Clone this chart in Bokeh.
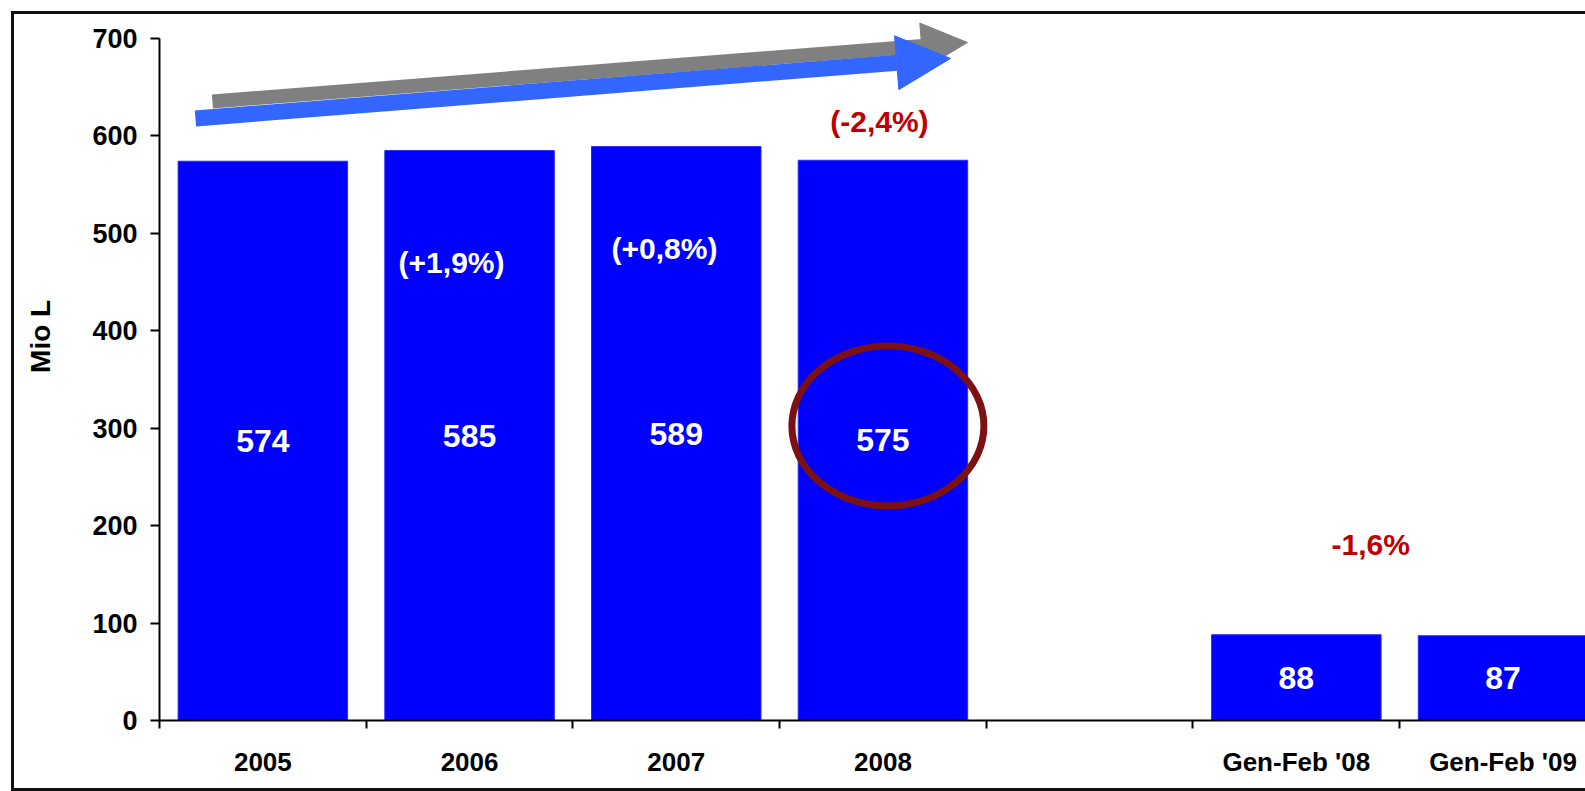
from bokeh.plotting import figure
from bokeh.models import (FixedTicker, Arrow, NormalHead, ColumnDataSource, LabelSet)
from bokeh.embed import file_html
from bokeh.resources import INLINE
from bokeh.core.properties import value

# ---------------- data ----------------
categories = ["2005", "2006", "2007", "2008", "", "Gen-Feb '08", "Gen-Feb '09"]
bar_slots = [0, 1, 2, 3, 5, 6]
bar_values = [574, 585, 589, 575, 88, 87]
bar_texts = ["574", "585", "589", "575", "88", "87"]

pct_texts = ["(+1,9%)", "(+0,8%)", "(-2,4%)", "-1,6%"]
pct_x = [0.913, 1.943, 2.983, 5.36]
pct_y = [470, 484, 615, 181]
pct_colors = ["white", "white", "#C00000", "#C00000"]

y_ticks = [0, 100, 200, 300, 400, 500, 600, 700]
y_title = "Mio L"

# ---------------- figure ----------------
FONT = "Liberation Sans"
p = figure(width=1585, height=791, x_range=(-0.5, 6.399), y_range=(0, 724.6),
           output_backend="svg", toolbar_location=None,
           min_border_left=159, min_border_right=0, min_border_top=14,
           min_border_bottom=71)
p.xgrid.visible = False
p.ygrid.visible = False
p.outline_line_color = None
p.background_fill_color = "white"
p.border_fill_color = None

# outer frame of the chart (drawn behind the transparent border area)
p.styles = {
    "background-color": "white",
    "background-image": "linear-gradient(#111,#111), linear-gradient(#111,#111), linear-gradient(#111,#111)",
    "background-size": "3px 780px, 1574px 3px, 1574px 3px",
    "background-position": "11px 11px, 11px 11px, 11px 788px",
    "background-repeat": "no-repeat",
}

src = ColumnDataSource(dict(x=bar_slots, top=bar_values,
                            mid=[v / 2 for v in bar_values], txt=bar_texts))
p.vbar(x="x", top="top", width=0.82, source=src, fill_color="#0000FF",
       line_color="#2a2aff", line_width=1)

p.add_layout(LabelSet(x="x", y="mid", text="txt", source=src,
                      text_color="white", text_font=value(FONT),
                      text_font_style="bold", text_font_size="32px",
                      text_align="center", text_baseline="middle"))

psrc = ColumnDataSource(dict(x=pct_x, y=pct_y, txt=pct_texts, c=pct_colors))
p.add_layout(LabelSet(x="x", y="y", text="txt", source=psrc,
                      text_color="c", text_font=value(FONT),
                      text_font_style="bold", text_font_size="30px",
                      text_align="center", text_baseline="middle"))

# highlight ellipse around 2008
p.ellipse(x=[3.024], y=[302.3], width=192, height=160,
          width_units="screen", height_units="screen",
          fill_color=None, line_color="#7B1113", line_width=7)

# trend arrows
p.add_layout(Arrow(end=NormalHead(size=46, fill_color="#808080", line_color="#808080"),
                   x_start=-0.244, y_start=635.3, x_end=3.409, y_end=695.9,
                   line_color="#808080", line_width=14))
p.add_layout(Arrow(end=NormalHead(size=54, fill_color="#3366FF", line_color="#3366FF"),
                   x_start=-0.326, y_start=617.9, x_end=3.327, y_end=679.5,
                   line_color="#3366FF", line_width=16))

# axes
ya = p.yaxis[0]
ya.ticker = FixedTicker(ticks=y_ticks)
ya.bounds = (0, 700)
ya.axis_line_width = 2
ya.major_tick_line_width = 2
ya.major_tick_out = 9
ya.major_tick_in = 0
ya.minor_tick_line_color = None
ya.major_label_standoff = 13
ya.major_label_text_font = FONT
ya.major_label_text_font_style = "bold"
ya.major_label_text_font_size = "27px"
ya.major_label_text_color = "black"
ya.axis_label = "\u00a0" * 8 + y_title
ya.axis_label_standoff = 33
ya.axis_label_text_font = FONT
ya.axis_label_text_font_style = "bold"
ya.axis_label_text_font_size = "28px"
ya.axis_label_text_color = "black"

xa = p.xaxis[0]
xa.ticker = FixedTicker(ticks=list(range(len(categories))),
                        minor_ticks=[i - 0.5 for i in range(len(categories) + 1)])
xa.major_label_overrides = {i: c for i, c in enumerate(categories)}
xa.axis_line_width = 2
xa.major_tick_line_color = None
xa.minor_tick_line_color = "black"
xa.minor_tick_line_width = 2
xa.minor_tick_out = 8
xa.minor_tick_in = 0
xa.major_label_standoff = 18
xa.major_label_text_font = FONT
xa.major_label_text_font_style = "bold"
xa.major_label_text_font_size = "26px"
xa.major_label_text_color = "black"

open("out.html", "w").write(file_html(p, INLINE))
